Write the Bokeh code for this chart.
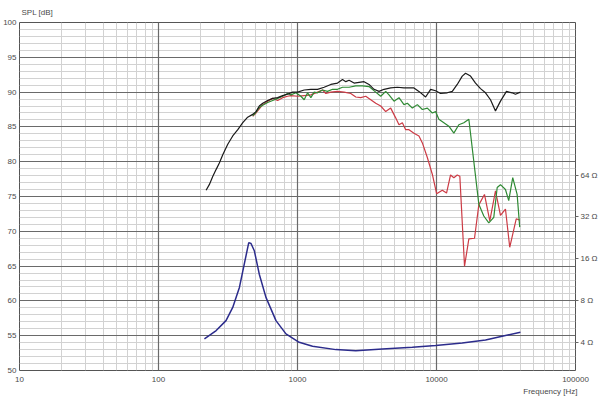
from bokeh.plotting import figure
from bokeh.models import FixedTicker, Range1d, LogScale, LogAxis, Title, Grid
from bokeh.embed import file_html
from bokeh.resources import INLINE

# ---- data ----
black_freq = [220, 232, 246, 260, 274, 290, 315, 342, 372, 404, 438, 476, 503, 531, 562, 610, 663, 720, 782, 849,
              922, 1002, 1117, 1248, 1394, 1555, 1737, 1941, 2108, 2226, 2350, 2553, 2773, 3011, 3271, 3553, 3859,
              4192, 4683, 5230, 5834, 6518, 6883, 7477, 8350, 9071, 9851, 10700, 11950, 12990, 14100, 15320, 16180,
              17570, 19090, 20730, 22520, 24460, 26570, 28860, 31860, 35000, 36970, 40160]
black_spl = [75.9, 76.7, 77.9, 78.9, 79.8, 81.0, 82.5, 83.7, 84.6, 85.6, 86.4, 86.8, 87.2, 88.0, 88.4, 88.8, 89.1,
             89.2, 89.5, 89.7, 90.0, 90.0, 90.3, 90.4, 90.4, 90.7, 91.1, 91.3, 91.8, 91.5, 91.7, 91.3, 91.4, 91.5,
             91.1, 90.4, 90.1, 90.4, 90.6, 90.7, 90.6, 90.6, 90.6, 90.1, 89.3, 90.4, 90.2, 89.8, 89.9, 90.1, 91.1,
             92.3, 92.7, 92.3, 91.3, 90.5, 89.9, 88.9, 87.3, 88.7, 90.1, 89.9, 89.7, 90.0]

green_freq = [476, 503, 531, 562, 610, 663, 720, 782, 849, 897, 974, 1058, 1117, 1182, 1248, 1318, 1394, 1514, 1645,
              1786, 1941, 2108, 2350, 2626, 2933, 3271, 3654, 3969, 4311, 4553, 4946, 5372, 5834, 6172, 6706, 7281,
              7911, 8590, 9329, 9851, 10400, 11300, 12270, 13330, 14480, 15730, 17090, 20160, 21890, 23780, 25830,
              27330, 28860, 31340, 33090, 35360, 38020, 39690]
green_spl = [86.6, 87.1, 87.8, 88.1, 88.5, 88.8, 89.1, 89.4, 89.8, 89.6, 89.9, 89.4, 88.9, 89.9, 89.2, 90.0, 89.9,
             90.3, 90.1, 90.4, 90.4, 90.7, 90.7, 90.9, 90.9, 90.8, 90.0, 89.4, 90.1, 89.6, 88.7, 89.2, 88.2, 88.4,
             87.7, 88.2, 87.5, 87.7, 87.0, 87.2, 86.1, 85.6, 85.1, 84.1, 85.3, 85.6, 86.1, 73.9, 72.2, 71.2, 72.0,
             76.3, 76.7, 76.0, 74.4, 77.7, 75.3, 70.6]

red_freq = [476, 503, 531, 562, 610, 663, 720, 782, 849, 897, 1002, 1117, 1248, 1394, 1514, 1600, 1737, 1941, 2164,
            2417, 2626, 2852, 3097, 3365, 3654, 3969, 4311, 4683, 5086, 5372, 5682, 6001, 6339, 6883, 7477, 7911,
            8590, 9329, 10020, 11010, 11810, 12620, 13330, 14100, 14720, 15910, 17090, 18770, 20160, 22140, 24180,
            26570, 28860, 31340, 33640, 37460, 39690]
red_spl = [86.5, 87.0, 87.6, 88.2, 88.7, 89.1, 88.8, 89.2, 89.4, 89.5, 89.4, 89.5, 89.6, 90.0, 90.3, 89.8, 90.0,
           90.1, 90.0, 89.8, 89.3, 89.2, 89.4, 88.9, 88.4, 88.0, 87.2, 87.7, 86.3, 85.3, 85.6, 84.6, 84.6, 84.1,
           83.7, 82.7, 80.6, 78.2, 75.4, 75.9, 75.5, 78.1, 77.7, 78.1, 77.9, 65.0, 68.9, 69.0, 73.8, 75.3, 71.5,
           75.8, 72.3, 73.2, 67.7, 71.8, 71.6]

imp_freq = [214, 260, 306, 342, 382, 414, 446, 463, 489, 531, 593, 700, 826, 1028, 1283, 1888, 2625, 4083, 6700,
            9860, 15310, 22530, 31330, 40170]
imp_ohm = [4.25, 4.88, 5.75, 7.16, 9.96, 14.66, 20.9, 20.6, 18.3, 12.4, 8.45, 5.75, 4.62, 4.02, 3.76, 3.56, 3.50,
           3.60, 3.70, 3.81, 3.98, 4.18, 4.49, 4.74]

x_ticks = [10, 100, 1000, 10000, 100000]
x_tick_labels = ["10", "100", "1000", "10000", "100000"]
y_ticks = [50, 55, 60, 65, 70, 75, 80, 85, 90, 95, 100]
imp_ticks = [4, 8, 16, 32, 64]
imp_tick_labels = ["4 Ω", "8 Ω", "16 Ω", "32 Ω", "64 Ω"]

x_minor = [m * d for d in [10, 100, 1000, 10000] for m in range(2, 10)]
y_minor = [v for v in range(51, 100) if v % 5 != 0]

FONT = "Liberation Sans"
TXT = "#4a4a4a"
MAJOR = "#6a6a6a"
MINOR = "#d2d2d2"

p = figure(width=600, height=402, x_axis_type="log", x_range=Range1d(10, 100000), y_range=Range1d(50, 100),
           output_backend="svg", toolbar_location=None,
           min_border_left=18, min_border_right=25, min_border_top=21, min_border_bottom=32)
p.background_fill_color = "white"
p.border_fill_color = "white"
p.outline_line_color = "#555555"

xt = FixedTicker(ticks=x_ticks, minor_ticks=x_minor)
yt = FixedTicker(ticks=y_ticks, minor_ticks=y_minor)
p.xaxis.ticker = xt
p.yaxis.ticker = yt

# minor grids first (built-in grids), majors drawn afterwards on top
p.xgrid.ticker = xt
p.ygrid.ticker = yt
for g in (p.xgrid, p.ygrid):
    g.grid_line_color = None
    g.minor_grid_line_color = MINOR
    g.minor_grid_line_width = 1
    g.minor_grid_line_dash = "solid"
for dim, ticks in ((0, x_ticks), (1, y_ticks)):
    mg = Grid(dimension=dim, ticker=FixedTicker(ticks=ticks), grid_line_color=MAJOR, grid_line_width=1.2,
              minor_grid_line_color=None)
    p.add_layout(mg)

p.xaxis.major_label_overrides = {t: l for t, l in zip(x_ticks, x_tick_labels)}
for ax in (p.xaxis, p.yaxis):
    ax.major_tick_out = 0
    ax.major_tick_in = 0
    ax.minor_tick_out = 0
    ax.minor_tick_in = 0
    ax.major_tick_line_color = None
    ax.minor_tick_line_color = None
    ax.axis_line_color = None
    ax.major_label_text_font = FONT
    ax.major_label_text_font_size = "8px"
    ax.major_label_text_color = TXT
p.xaxis.major_label_standoff = 6
p.yaxis.major_label_standoff = 3

p.extra_y_ranges = {"imp": Range1d(2.52, 799)}
p.extra_y_scales = {"imp": LogScale()}
rax = LogAxis(y_range_name="imp", ticker=FixedTicker(ticks=imp_ticks),
              major_label_overrides={t: l for t, l in zip(imp_ticks, imp_tick_labels)})
rax.axis_line_color = None
rax.major_tick_out = 3
rax.major_tick_in = 0
rax.major_tick_line_color = "#666666"
rax.minor_tick_line_color = None
rax.major_label_standoff = 2
rax.major_label_text_font = FONT
rax.major_label_text_font_size = "8px"
rax.major_label_text_color = TXT
p.add_layout(rax, "right")

p.line(red_freq, red_spl, line_color="#cc3b45", line_width=1.2)
p.line(green_freq, green_spl, line_color="#2f8a34", line_width=1.2)
p.line(black_freq, black_spl, line_color="#1a1a1a", line_width=1.2)
p.line(imp_freq, imp_ohm, line_color="#2c2c8c", line_width=1.5, y_range_name="imp")

p.add_layout(Title(text="SPL [dB]", align="left", offset=2, standoff=11, text_font=FONT,
                   text_font_size="8px", text_font_style="normal", text_color=TXT), "above")
p.add_layout(Title(text="Frequency [Hz]", align="right", offset=-2, standoff=0, text_font=FONT,
                   text_font_size="8px", text_font_style="normal", text_color=TXT), "below")

open("out.html", "w").write(file_html(p, INLINE))
